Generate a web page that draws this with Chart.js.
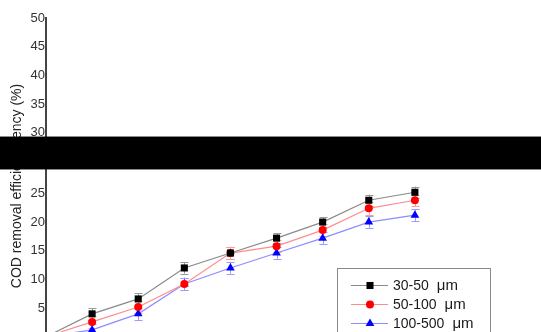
<!DOCTYPE html>
<html>
<head>
<meta charset="utf-8">
<script src="https://cdn.jsdelivr.net/npm/chart.js@4.4.1/dist/chart.umd.min.js"></script>
<style>
  html, body { margin: 0; padding: 0; background: #fff; }
  #wrap { width: 541px; height: 332px; position: relative; overflow: hidden; }
</style>
</head>
<body>
<div id="wrap"><canvas id="c" width="541" height="332"></canvas></div>
<script>
// ---- data ----
const times = [0, 10, 20, 30, 40, 50, 60, 70, 80];
const seriesLabels = ['30-50 μm', '50-100 μm', '100-500 μm'];
const cod30_50   = [0, 4.0, 6.6, 12.0, 14.6, 17.2, 20.0, 23.8, 25.2];
const cod50_100  = [0, 2.6, 5.2,  9.2, 14.6, 15.8, 18.6, 22.4, 23.8];
const cod100_500 = [0, 1.2, 4.0,  9.2, 12.0, 14.6, 17.2, 20.0, 21.2];
const err30_50   = [0, 1.0, 1.0, 1.0, 1.0, 0.9, 0.9, 1.0, 1.0];
const err50_100  = [0, 1.0, 1.0, 1.1, 1.1, 1.0, 1.0, 1.1, 1.0];
const err100_500 = [0, 1.0, 1.1, 1.1, 1.0, 1.0, 1.0, 1.0, 1.0];
const yTicks = [5, 10, 15, 20, 25, 30, 35, 40, 45, 50];

const FONT = "'Liberation Sans', Arial, sans-serif";
const CUT = 137, SHIFT = 32;

function pts(vals) { return vals.map((v, i) => ({ x: times[i], y: v })); }

const styles = [
  { line: '#8a8a8a', point: '#000000', err: '#9a9a9a', shape: 'rect', r: 5 },
  { line: '#ff8c8c', point: '#ff0000', err: '#ff9a9a', shape: 'circle', r: 4 },
  { line: '#8c8cff', point: '#0000ff', err: '#9a9aff', shape: 'triangle', r: 5 }
];
const values = [cod30_50, cod50_100, cod100_500];
const errors = [err30_50, err50_100, err100_500];

const datasets = values.map((v, i) => ({
  label: seriesLabels[i],
  data: pts(v),
  borderColor: styles[i].line,
  borderWidth: 1.2,
  pointStyle: styles[i].shape,
  pointRadius: styles[i].r,
  pointBackgroundColor: styles[i].point,
  pointBorderColor: styles[i].point,
  pointBorderWidth: 0,
  tension: 0,
  clip: false
}));

const errorBars = {
  id: 'errorBars',
  beforeDatasetsDraw(chart) {
    const ctx = chart.ctx, xs = chart.scales.x, ys = chart.scales.y;
    ctx.save();
    ctx.lineWidth = 1;
    values.forEach((vals, si) => {
      ctx.strokeStyle = styles[si].err;
      vals.forEach((v, i) => {
        const e = errors[si][i];
        if (!e) return;
        const x = Math.round(xs.getPixelForValue(times[i])) + 0.5;
        const y1 = ys.getPixelForValue(v - e), y2 = ys.getPixelForValue(v + e);
        ctx.beginPath();
        ctx.moveTo(x, y1); ctx.lineTo(x, y2);
        ctx.moveTo(x - 4, Math.round(y1) + 0.5); ctx.lineTo(x + 4, Math.round(y1) + 0.5);
        ctx.moveTo(x - 4, Math.round(y2) + 0.5); ctx.lineTo(x + 4, Math.round(y2) + 0.5);
        ctx.stroke();
      });
    });
    ctx.restore();
  }
};

const splitAndLegend = {
  id: 'splitAndLegend',
  afterDraw(chart) {
    const c = chart.canvas, ctx = chart.ctx;
    ctx.save();
    ctx.setTransform(1, 0, 0, 1, 0, 0);
    const tmp = document.createElement('canvas');
    tmp.width = c.width; tmp.height = c.height;
    tmp.getContext('2d').drawImage(c, 0, 0);
    ctx.clearRect(0, CUT, c.width, c.height - CUT);
    ctx.drawImage(tmp, 0, CUT, c.width, c.height - CUT - SHIFT, 0, CUT + SHIFT, c.width, c.height - CUT - SHIFT);
    ctx.fillStyle = '#000';
    ctx.fillRect(0, CUT, c.width, SHIFT);
    ctx.fillStyle = 'rgba(0,0,0,0.45)';
    ctx.fillRect(0, CUT - 1, c.width, 1);
    ctx.fillRect(0, CUT + SHIFT, c.width, 1);

    // legend box (inside plot, lower right)
    ctx.strokeStyle = '#8a8a8a';
    ctx.lineWidth = 1;
    ctx.strokeRect(337.5, 268.5, 153, 80);
    const rows = [285, 304, 323];
    seriesLabels.forEach((lab, i) => {
      const y = rows[i];
      ctx.strokeStyle = styles[i].line;
      ctx.lineWidth = 1.2;
      ctx.beginPath(); ctx.moveTo(351, y + 0.5); ctx.lineTo(388, y + 0.5); ctx.stroke();
      ctx.fillStyle = styles[i].point;
      ctx.strokeStyle = styles[i].point;
      Chart.helpers.drawPoint(ctx, { pointStyle: styles[i].shape, radius: styles[i].r, rotation: 0, borderWidth: 0 }, 370, y + 0.5);
      const parts = lab.split(' ');
      ctx.fillStyle = '#1a1a1a';
      ctx.font = '14px ' + FONT;
      ctx.textBaseline = 'middle';
      ctx.textAlign = 'left';
      ctx.fillText(parts[0], 393, y + 1);
      const w = ctx.measureText(parts[0]).width;
      ctx.font = '15px ' + FONT;
      ctx.fillText(parts[1], 393 + w + 8, y + 1);
    });
    ctx.restore();
  }
};

new Chart(document.getElementById('c'), {
  type: 'line',
  data: { datasets },
  options: {
    responsive: false,
    animation: false,
    devicePixelRatio: 1,
    layout: { padding: { top: 18, right: 80, bottom: 10, left: 0 } },
    plugins: { legend: { display: false }, tooltip: { enabled: false } },
    scales: {
      x: { type: 'linear', min: 0, max: 90, display: false },
      y: {
        min: -3, max: 50,
        afterBuildTicks: s => { s.ticks = [-3, 0].concat(yTicks).map(v => ({ value: v })); },
        ticks: {
          padding: 1,
          color: '#333',
          font: { family: FONT, size: 13 },
          callback: v => (yTicks.includes(v) ? String(v) : '')
        },
        grid: { display: false, drawTicks: false },
        border: { display: true, color: '#444', width: 2 },
        title: {
          display: true,
          text: 'COD removal efficiency (%)',
          color: '#222',
          font: { family: FONT, size: 14 },
          padding: { top: 9, bottom: 0 }
        },
        afterFit: s => { s.width = 46; }
      }
    }
  },
  plugins: [errorBars, splitAndLegend]
});
</script>
</body>
</html>
